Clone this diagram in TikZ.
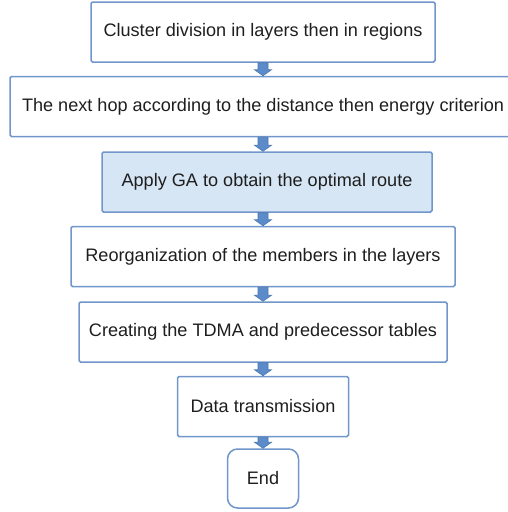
\documentclass[tikz,border=0pt]{standalone}
\usepackage{fontspec}
\setmainfont{Liberation Sans}
\usepackage{tikz}
\usetikzlibrary{positioning,calc}

\definecolor{boxline}{HTML}{7096CB}
\definecolor{gafill}{HTML}{D6E6F4}
\definecolor{arrowfill}{HTML}{5B8BC8}
\definecolor{arrowline}{HTML}{4C78B2}
\definecolor{textgray}{HTML}{1E1E1E}

\begin{document}
\begin{tikzpicture}
	[stepbox/.style={draw=boxline,line width=1.5pt,rounded corners=1.5pt,
		minimum height=60pt,inner sep=0pt,text=textgray,
		font=\fontsize{18.1}{22}\selectfont},
	endbox/.style={stepbox,rounded corners=10pt,minimum height=59pt},
	blockarrow/.style={fill=arrowfill,draw=arrowline,line width=0.6pt,
		to path={let \p1=(\tikztostart),\p2=(\tikztotarget) in
			(\x1-5pt,\y1) -- (\x1-5pt,\y2+6pt) -- (\x1-8.5pt,\y2+6pt) -- (\x1,\y2)
			-- (\x1+8.5pt,\y2+6pt) -- (\x1+5pt,\y2+6pt) -- (\x1+5pt,\y1) -- cycle}}]
	\useasboundingbox (0,0) rectangle (508pt,-512pt);

	% steps, top to bottom
	\node[stepbox,minimum width=344pt] (cluster) at (263pt,-32pt)
		{Cluster division in layers then in regions};
	\node[stepbox,minimum width=506pt,below=13pt of cluster] (hop)
		{The next hop according to the distance then energy criterion};
	\node[stepbox,fill=gafill,minimum width=330pt,below=14pt of hop,xshift=4pt] (ga)
		{Apply GA to obtain the optimal route};
	\node[stepbox,minimum width=384pt,below=13pt of ga,xshift=-4pt] (reorg)
		{Reorganization of the members in the layers};
	\node[stepbox,minimum width=368pt,below=14pt of reorg] (tdma)
		{Creating the TDMA and predecessor tables};
	\node[stepbox,minimum width=171pt,below=13pt of tdma] (data)
		{Data transmission};
	\node[endbox,minimum width=71pt,below=11pt of data] (end) {End};

	% block arrows between the steps
	\draw[blockarrow] (cluster.south) to (hop.north);
	\draw[blockarrow] (hop.south) to (hop.south |- ga.north);
	\draw[blockarrow] (ga.south -| reorg.north) to (reorg.north);
	\draw[blockarrow] (reorg.south) to (tdma.north);
	\draw[blockarrow] (tdma.south) to (data.north);
	\draw[blockarrow] (data.south) to (end.north);
\end{tikzpicture}
\end{document}
